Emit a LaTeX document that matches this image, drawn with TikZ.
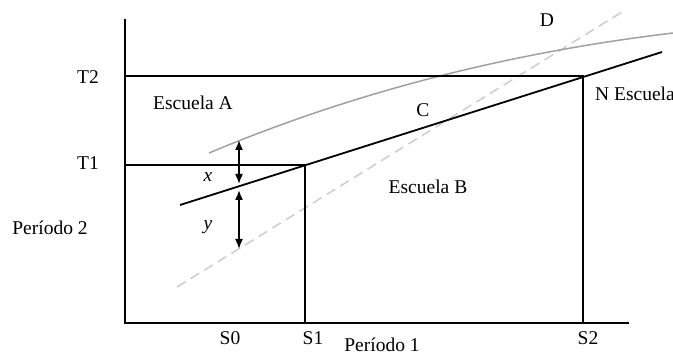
\documentclass[tikz,border=0pt]{standalone}
\usepackage{fontspec}
\setmainfont{Liberation Serif}
\usetikzlibrary{arrows.meta}
\begin{document}
\begin{tikzpicture}[x=1pt,y=-1pt,
  axis/.style={line width=1.8pt,black},
  blk/.style={line width=1.8pt,black},
  curveA/.style={line width=1.5pt,color={rgb,255:red,160;green,160;blue,160}},
  dashD/.style={line width=1.5pt,color={rgb,255:red,205;green,205;blue,205},dash pattern=on 10pt off 6pt},
  dim/.style={line width=1.6pt,{Latex[length=10pt,width=8pt]}-{Latex[length=10pt,width=8pt]}},
  lbl/.style={font=\fontsize{19.5}{22}\selectfont,inner sep=0pt}]
\useasboundingbox (0,0) rectangle (673,355);
% axes
\coordinate (top) at (125,19);
\coordinate (orig) at (125,323);
\coordinate (xend) at (629,323);
\draw[axis] (top) -- (orig) -- (xend);
% dashed line D
\coordinate (d0) at (177,287);
\coordinate (d1) at (622,12);
\draw[dashD] (d0) -- (d1);
% grey curve
\coordinate (g0) at (209,153);
\coordinate (g1) at (673,33);
\draw[curveA] (g0) .. controls (352,93) and (506,53) .. (g1);
% T lines and S lines
\coordinate (t2) at (125,76);
\coordinate (t1) at (125,165);
\coordinate (s1) at (305,165);
\coordinate (s1b) at (305,323);
\coordinate (s2) at (583,76);
\coordinate (s2b) at (583,323);
\draw[blk] (t2) -- (s2) -- (s2b);
\draw[blk] (t1) -- (s1) -- (s1b);
% black line C
\coordinate (c0) at (180,205);
\coordinate (c1) at (662,52);
\draw[blk] (c0) -- (c1);
% dimension arrows
\coordinate (xa) at (239,140);
\coordinate (xb) at (239,184);
\coordinate (ya) at (239,190);
\coordinate (yb) at (239,249);
\draw[dim] (xa) -- (xb);
\draw[dim] (ya) -- (yb);
% labels
\node[lbl] (lT2) at (88,77) {T2};
\node[lbl] (lT1) at (88,163) {T1};
\node[lbl] (lEA) at (193,103) {Escuela A};
\node[lbl] (lP2) at (50,228) {Período 2};
\node[lbl] (lx) at (208,177) {\textit{x}};
\node[lbl] (ly) at (208,227) {\textit{y}};
\node[lbl] (lC) at (423,110) {C};
\node[lbl] (lD) at (547,20) {D};
\node[lbl] (lEB) at (428,187) {Escuela B};
\node[lbl,anchor=west] (lNE) at (595,94) {N Escuela};
\node[lbl] (lS0) at (230,338) {S0};
\node[lbl] (lS1) at (313,338) {S1};
\node[lbl] (lS2) at (588,338) {S2};
\node[lbl] (lP1) at (382,345) {Período 1};
\end{tikzpicture}
\end{document}
